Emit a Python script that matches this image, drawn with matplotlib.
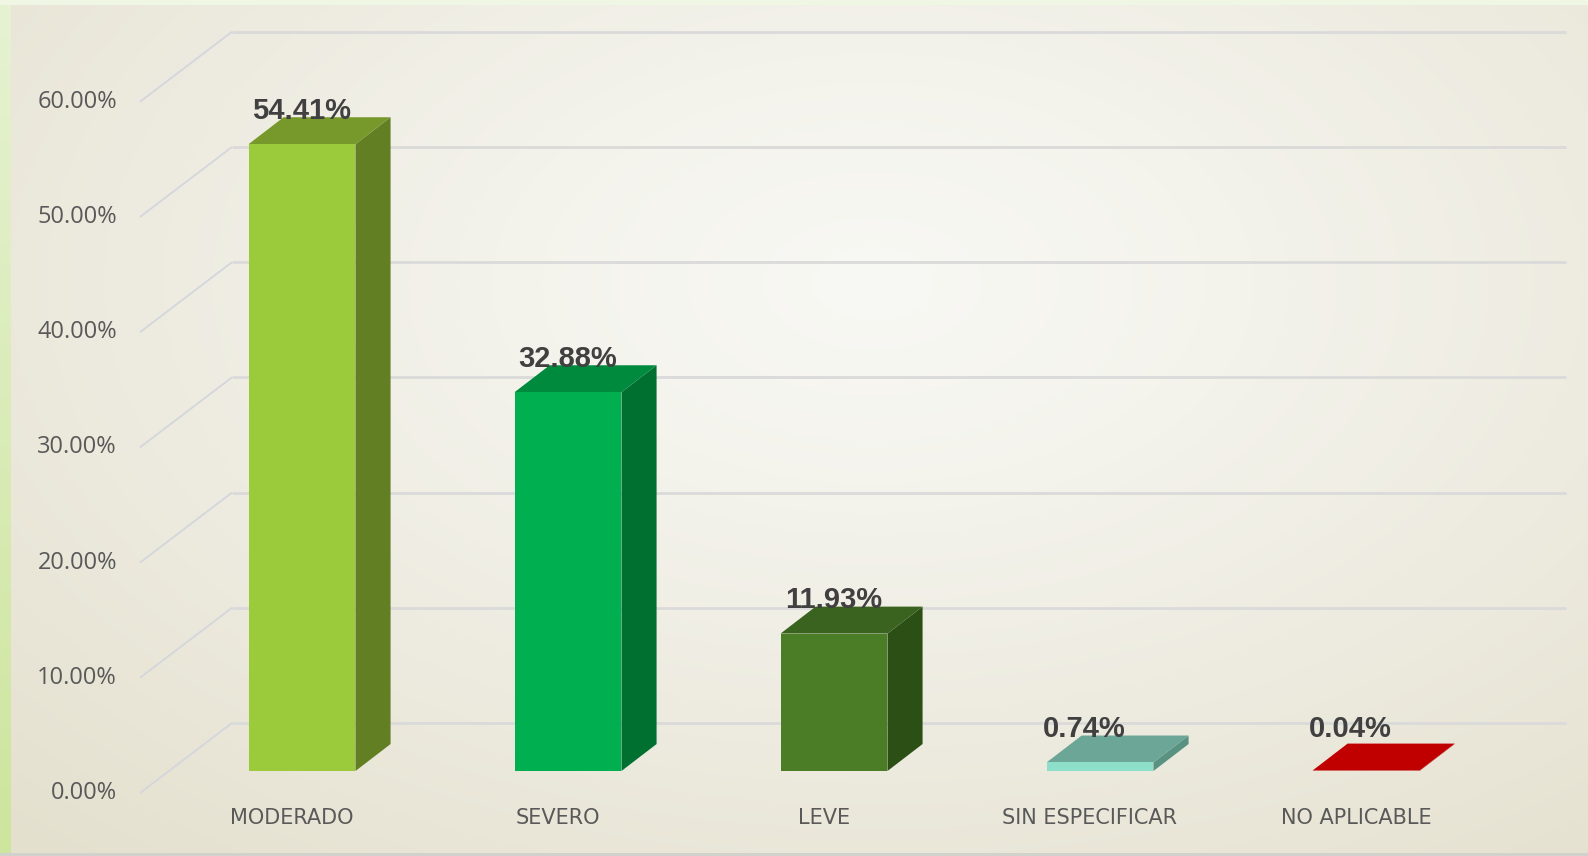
import numpy as np
import matplotlib
matplotlib.use("Agg")
import matplotlib.pyplot as plt
from matplotlib.patches import Polygon, Rectangle
from matplotlib.colors import to_rgb

categories = ["MODERADO", "SEVERO", "LEVE", "SIN ESPECIFICAR", "NO APLICABLE"]
values = [54.41, 32.88, 11.93, 0.74, 0.04]
labels = ["54.41%", "32.88%", "11.93%", "0.74%", "0.04%"]
ticks = [0, 10, 20, 30, 40, 50, 60]
tick_labels = ["0.00%", "10.00%", "20.00%", "30.00%", "40.00%", "50.00%", "60.00%"]

front_colors = ["#9BCA3B", "#00B050", "#4A7D26", "#8EDFCA", "#C00000"]
side_colors = ["#627F24", "#007030", "#2C4F15", "#5A9282", "#A00000"]
top_colors = ["#77982B", "#008A3D", "#3A6320", "#6BA697", "#C00000"]

# oblique projection (category units, percent units)
bar_half = 0.201
bar_dx, bar_dy = 0.132, 2.34       # bar depth
back_dx, back_dy = 0.237, 4.17     # bar front plane -> back wall
floor_dx, floor_dy = -0.109, -1.91 # bar front plane -> floor front edge

fig = plt.figure(figsize=(15.88, 8.56), dpi=100)
ax = fig.add_axes([0, 0, 1, 1])
ax.set_xlim(-302 / 266, (1588 - 302) / 266)
ax.set_ylim((771 - 856) / 11.52, 771 / 11.52)
ax.axis("off")

# background gradient
h, w = 120, 220
yy, xx = np.mgrid[0:h, 0:w]
u = xx / (w - 1)
v = yy / (h - 1)
r = np.sqrt(((u - 0.55) / 0.8) ** 2 + ((v - 0.33) / 0.9) ** 2)
r = np.clip(r, 0, 1) ** 1.2
c_in = np.array(to_rgb("#F8F8F4"))
c_out = np.array(to_rgb("#E4E0CE"))
img = c_in[None, None, :] * (1 - r[..., None]) + c_out[None, None, :] * r[..., None]
ax.imshow(img, extent=[0, 1, 0, 1], transform=ax.transAxes, aspect="auto",
          interpolation="bilinear", zorder=0)

# left green strip (vertical gradient) and top strip
strip = np.linspace(0, 1, 100)[:, None, None]
c_top = np.array(to_rgb("#E6F2D2"))
c_bot = np.array(to_rgb("#CDE59D"))
strip_img = c_top * (1 - strip) + c_bot * strip
ax.imshow(strip_img, extent=[0, 11 / 1588, 0, 1], transform=ax.transAxes,
          aspect="auto", interpolation="bilinear", zorder=1, origin="upper")
ax.add_patch(Rectangle((0, 1 - 5 / 856), 1, 5 / 856, transform=ax.transAxes,
                       color="#EFF6E3", zorder=1, lw=0))
ax.add_patch(Rectangle((0, 0), 1, 3 / 856, transform=ax.transAxes,
                       color="#D2D2CC", zorder=1, lw=0))

# gridlines: diagonal on the floor side, horizontal on the back wall
x_back_left = (232 - 302) / 266
x_back_right = (1566 - 302) / 266
x_floor_left = x_back_left - (back_dx - floor_dx)
for t in ticks:
    ax.plot([x_floor_left, x_back_left], [t + floor_dy, t + back_dy],
            color="#D3D6DC", lw=1.3, zorder=2, solid_capstyle="butt")
    ax.plot([x_back_left, x_back_right], [t + back_dy, t + back_dy],
            color="#DADADA", lw=2.0, zorder=2, solid_capstyle="butt")

for t, lab in zip(ticks, tick_labels):
    ax.text((117 - 302) / 266, t + floor_dy, lab, ha="right", va="center",
            fontsize=17, color="#595959", family="Open Sans", zorder=5)

# 3D-looking bars
for i, val in enumerate(values):
    x0, x1 = i - bar_half, i + bar_half
    front = Polygon([(x0, 0), (x1, 0), (x1, val), (x0, val)], closed=True,
                    facecolor=front_colors[i], edgecolor="none", zorder=4)
    side = Polygon([(x1, 0), (x1 + bar_dx, bar_dy), (x1 + bar_dx, val + bar_dy), (x1, val)],
                   closed=True, facecolor=side_colors[i], edgecolor="none", zorder=4)
    top = Polygon([(x0, val), (x1, val), (x1 + bar_dx, val + bar_dy), (x0 + bar_dx, val + bar_dy)],
                  closed=True, facecolor=top_colors[i], edgecolor="none", zorder=4)
    for p in (side, top, front):
        ax.add_patch(p)
    # labels of the flat bars sit a little to the left, at a common height
    lx = i if val > 5 else i - 0.06
    ly = max(val, 0.74) + bar_dy - 0.15
    ax.text(lx, ly, labels[i], ha="center", va="baseline",
            fontsize=21, fontweight="bold", color="#404040",
            family=["Liberation Sans Narrow", "Liberation Sans", "DejaVu Sans"], zorder=6)
    ax.text(i - 0.038, (771 - 818) / 11.52, categories[i], ha="center", va="center",
            fontsize=15, color="#595959", family="DejaVu Sans", zorder=5)

fig.savefig("out.png", dpi=100)
